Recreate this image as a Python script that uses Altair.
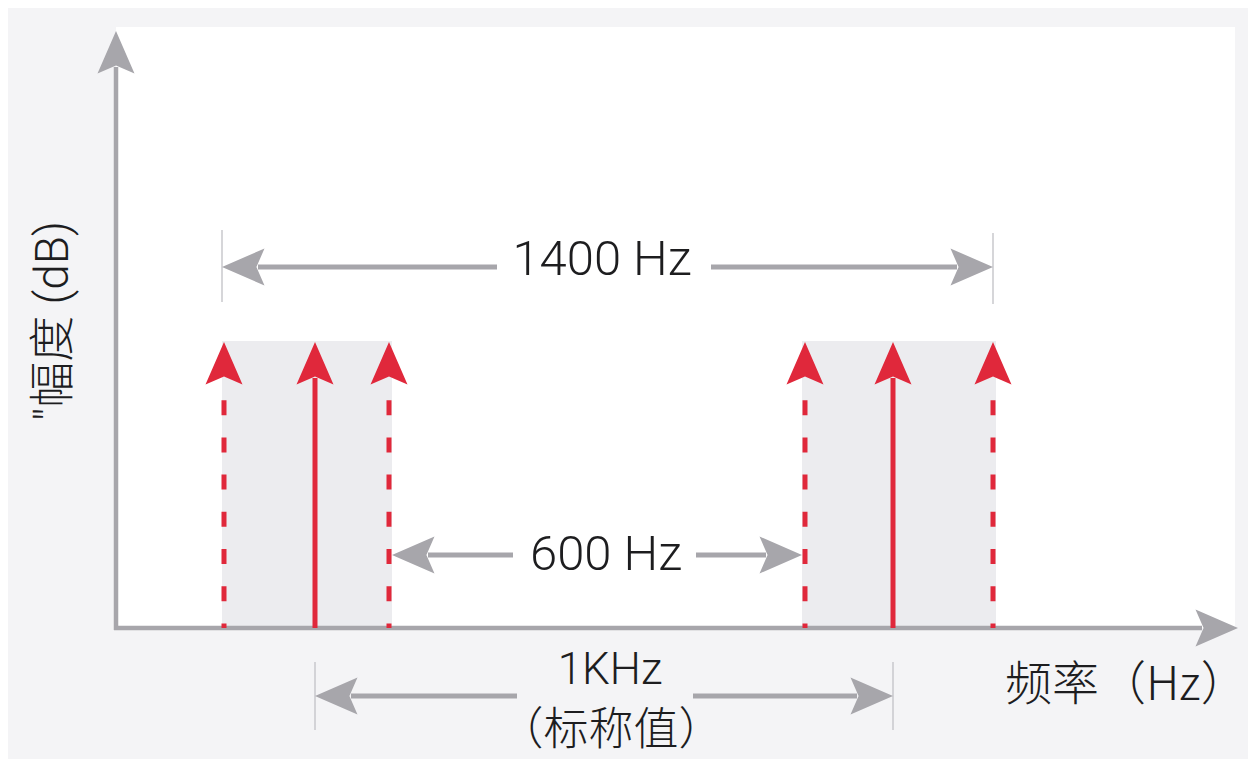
import altair as alt
import pandas as pd

# ---------------- data (schematic units, origin at the axes' corner) ----------------
carrier_x = [199, 777]                 # nominal carriers (solid red)
sideband_x = [108, 273, 689, 877]      # sidebands (dashed red)
band_x0 = [106, 686]
band_x1 = [276, 880]
band_top = [287, 287]
spectral_tip = 286                     # amplitude of every spectral line

plot_right = 1119
plot_top = 601
x_axis_tip = 1122
y_axis_tip = 597

dim_labels = ["1400 Hz", "600 Hz", "1KHz"]
dim_x0 = [106, 276, 199]
dim_x1 = [877, 686, 777]
dim_y = [361, 73, -68]
dim_gap0 = [381, 397, 401]
dim_gap1 = [595, 580, 577]
dim_label_x = [486, 490, 494]
dim_label_y = [353, 58, -56]
dim_label_size = [49, 49, 44]

ext_x = [106, 877, 199, 777]
ext_y0 = [326, 324, -102, -102]
ext_y1 = [398, 395, -34, -34]

sub_label = ["（标称值）"]
sub_label_x = [495]
sub_label_y = [-117]

x_title = ["频率（Hz）"]
x_title_x = [889]
x_title_y = [-72]

y_title = ['"幅度 (dB)']
y_title_x = [-62]
y_title_y = [307]

# ---------------- styling ----------------
GRAY = "#a7a6ab"
RED = "#e0283b"
BAND = "#ececef"
BG = "#f4f4f6"
TEXT = "#1d1d1f"
HEAD = "M0,0 L0.87,2 L0,1.62 L-0.87,2 Z"   # tip at the anchor point
HEAD_SIZE = 1806
SHAFT_CUT = 36

XS = alt.Scale(domain=[-108, 1132], nice=False, zero=False)
YS = alt.Scale(domain=[-131, 620], nice=False, zero=False)


def X(f):
    return alt.X(f, type="quantitative", scale=XS, axis=None)


def X2(f):
    return alt.X2(f)


def Y(f):
    return alt.Y(f, type="quantitative", scale=YS, axis=None)


def Y2(f):
    return alt.Y2(f)


# plot area (white)
plot_df = pd.DataFrame({"x0": [0], "x1": [plot_right], "y0": [0], "y1": [plot_top]})
plot_area = alt.Chart(plot_df).mark_rect(color="white").encode(
    x=X("x0"), x2=X2("x1"), y=Y("y0"), y2=Y2("y1"))

# shaded channel bands
band_df = pd.DataFrame({"x0": band_x0, "x1": band_x1, "y0": [0, 0], "y1": band_top})
bands = alt.Chart(band_df).mark_rect(color=BAND).encode(
    x=X("x0"), x2=X2("x1"), y=Y("y0"), y2=Y2("y1"))

# thin extension lines
ext_df = pd.DataFrame({"x": ext_x, "y0": ext_y0, "y1": ext_y1})
ext = alt.Chart(ext_df).mark_rule(color="#c9c9cc", strokeWidth=1.5).encode(
    x=X("x"), y=Y("y0"), y2=Y2("y1"))

# axes
axis_df = pd.DataFrame({
    "x0": [-2, 0], "x1": [x_axis_tip - SHAFT_CUT, 0],
    "y0": [0, -2], "y1": [0, y_axis_tip - SHAFT_CUT]})
axes = alt.Chart(axis_df).mark_rule(color=GRAY, strokeWidth=4.5).encode(
    x=X("x0"), x2=X2("x1"), y=Y("y0"), y2=Y2("y1"))
axis_head_df = pd.DataFrame({"x": [x_axis_tip, 0], "y": [0, y_axis_tip], "a": [90, 0]})
axis_heads = alt.Chart(axis_head_df).mark_point(
    shape=HEAD, size=HEAD_SIZE, filled=True, color=GRAY, opacity=1, strokeWidth=0
).encode(x=X("x"), y=Y("y"), angle=alt.Angle("a:Q", scale=None))

# dimension arrows
seg_rows = []
head_rows = []
for i in range(len(dim_labels)):
    seg_rows.append({"x0": dim_x0[i] + SHAFT_CUT, "x1": dim_gap0[i], "y": dim_y[i]})
    seg_rows.append({"x0": dim_gap1[i], "x1": dim_x1[i] - SHAFT_CUT, "y": dim_y[i]})
    head_rows.append({"x": dim_x0[i], "y": dim_y[i], "a": 270})
    head_rows.append({"x": dim_x1[i], "y": dim_y[i], "a": 90})
dim_shafts = alt.Chart(pd.DataFrame(seg_rows)).mark_rule(color=GRAY, strokeWidth=5).encode(
    x=X("x0"), x2=X2("x1"), y=Y("y"))
dim_heads = alt.Chart(pd.DataFrame(head_rows)).mark_point(
    shape=HEAD, size=HEAD_SIZE, filled=True, color=GRAY, opacity=1, strokeWidth=0
).encode(x=X("x"), y=Y("y"), angle=alt.Angle("a:Q", scale=None))

# spectral lines
line_top = spectral_tip - SHAFT_CUT
solid_df = pd.DataFrame({"x": carrier_x, "y0": [0] * len(carrier_x), "y1": [line_top] * len(carrier_x)})
solid = alt.Chart(solid_df).mark_rule(color=RED, strokeWidth=5).encode(
    x=X("x"), y=Y("y0"), y2=Y2("y1"))
dash_df = pd.DataFrame({"x": sideband_x, "y0": [line_top] * len(sideband_x), "y1": [0] * len(sideband_x)})
dashed = alt.Chart(dash_df).mark_rule(
    color=RED, strokeWidth=5, strokeDash=[15, 22.2], strokeDashOffset=15
).encode(x=X("x"), y=Y("y0"), y2=Y2("y1"))
all_x = sorted(carrier_x + sideband_x)
red_head_df = pd.DataFrame({"x": all_x, "y": [spectral_tip] * len(all_x), "a": [0] * len(all_x)})
red_heads = alt.Chart(red_head_df).mark_point(
    shape=HEAD, size=HEAD_SIZE, filled=True, color=RED, opacity=1, strokeWidth=0
).encode(x=X("x"), y=Y("y"), angle=alt.Angle("a:Q", scale=None))

# labels
LATIN = 'Roboto, "Noto Sans CJK SC"'
lab_df = pd.DataFrame({"t": dim_labels, "x": dim_label_x, "y": dim_label_y, "s": dim_label_size})
labels = alt.Chart(lab_df).mark_text(
    font=LATIN, fontWeight=300, color=TEXT, align="center", baseline="alphabetic"
).encode(x=X("x"), y=Y("y"), text="t:N", size=alt.Size("s:Q", scale=None))

sub_df = pd.DataFrame({"t": sub_label, "x": sub_label_x, "y": sub_label_y})
sub = alt.Chart(sub_df).mark_text(
    font="Noto Sans CJK SC", fontSize=45, fontWeight=300, color=TEXT, align="center", baseline="alphabetic"
).encode(x=X("x"), y=Y("y"), text="t:N")

xt_df = pd.DataFrame({"t": x_title, "x": x_title_x, "y": x_title_y})
xt = alt.Chart(xt_df).mark_text(
    font="Noto Sans CJK SC", fontSize=47, fontWeight=300, color=TEXT, align="left", baseline="alphabetic"
).encode(x=X("x"), y=Y("y"), text="t:N")

yt_df = pd.DataFrame({"t": y_title, "x": y_title_x, "y": y_title_y})
yt = alt.Chart(yt_df).mark_text(
    font=LATIN, fontSize=46, fontWeight=300, color=TEXT,
    align="center", baseline="middle", angle=270
).encode(x=X("x"), y=Y("y"), text="t:N")

chart = alt.layer(
    plot_area, bands, ext, axes, axis_heads, solid, dashed, red_heads,
    dim_shafts, dim_heads, labels, sub, xt, yt
).properties(
    width=1240, height=751,
    autosize=alt.AutoSizeParams(type="none"),
    padding=0,
    background=BG,
).configure_view(stroke=None)

chart.save("out.html", embed_options={"renderer": "svg", "actions": False})
